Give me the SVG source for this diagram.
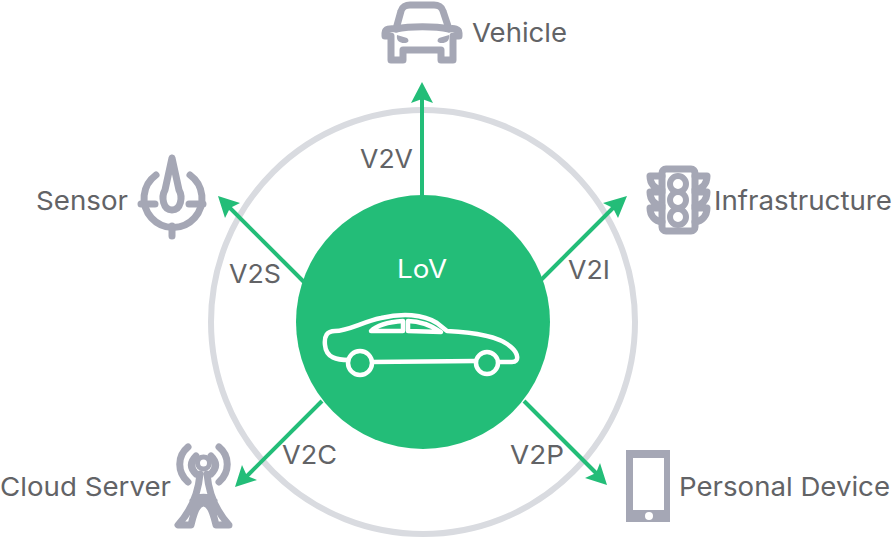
<svg xmlns="http://www.w3.org/2000/svg" width="894" height="538" viewBox="0 0 894 538">
<style>
.t{font-family:Inter,"Liberation Sans",sans-serif;font-size:26px;fill:#626366}
.w{font-family:Inter,"Liberation Sans",sans-serif;font-size:25px;fill:#fff;text-anchor:middle}
.i{fill:none;stroke:#a5a7b5;stroke-width:7;stroke-linecap:round;stroke-linejoin:round}
.f{fill:#a5a7b5}
.c{fill:none;stroke:#23bd78;stroke-width:4}
.a{fill:#23bd78}
.car{fill:none;stroke:#fff;stroke-width:4.5;stroke-linejoin:round}
</style>
<rect width="894" height="538" fill="#fff"/>
<circle id="ring" cx="423" cy="322" r="212" fill="none" stroke="#d9dbe0" stroke-width="6"/>
<g id="connectors">
<path class="c" d="M422 198V96"/><polygon class="a" points="422,82 433,103 422,99 411,103"/>
<path class="c" d="M541 280L614 207"/><polygon class="a" points="627,196 618,218 613,208 603,203"/>
<path class="c" d="M305 283L229 207"/><polygon class="a" points="218,196 240,203 230,208 225,218"/>
<path class="c" d="M322 401L246 477"/><polygon class="a" points="235,487 242,465 247,476 257,480"/>
<path class="c" d="M524 401L597 474"/><polygon class="a" points="607,485 585,478 596,473 600,463"/>
</g>
<g id="lov">
<circle cx="423" cy="322" r="127" fill="#23bd78"/>
<text class="w" x="422" y="278" textLength="50" lengthAdjust="spacingAndGlyphs">LoV</text>
<path class="car" d="M349 360C337 360 326 358 325 345C324 336 327 331 335 331C348 331 362 322 381 318C402 313 423 314 437 323L447 331C470 332 498 335 511 347C518 353 520 362 512 362L498 362M476 361L371 362"/>
<circle class="car" cx="360" cy="363" r="12"/><circle class="car" cx="487" cy="363" r="11"/>
<path class="car" stroke-width="3" d="M371 331C377 325 389 322 403 321V331ZM408 321C420 321 432 326 441 332L408 331Z"/>
</g>
<g id="vehicle">
<path class="i" d="M396 29L401 11C402 7 406 5 410 5H434C438 5 442 7 443 11L449 29" stroke-width="9"/>
<path class="i" d="M396 29C390 28 385 29 385 33V36H391V60H403V50H441V60H453V36H459V33C459 29 454 28 449 29C435 26 410 26 396 29Z"/>
<path class="f" d="M397 35L407 38C410 41 408 43 404 43C400 43 396 41 397 35ZM449 35L439 38C436 41 438 43 442 43C446 43 450 41 449 35Z"/>
<text class="t" x="472" y="42" textLength="95" lengthAdjust="spacingAndGlyphs">Vehicle</text>
</g>
<g id="infrastructure">
<rect class="i" x="662" y="169" width="33" height="62" rx="4"/>
<path class="i" d="M662 176H650C650 184 655 189 662 190M695 176H707C707 184 702 189 695 190M662 192H650C650 200 655 205 662 206M695 192H707C707 200 702 205 695 206M662 208H650C650 216 655 221 662 222M695 208H707C707 216 702 221 695 222"/>
<circle cx="678" cy="184" r="8" fill="#fff" stroke="#a5a7b5" stroke-width="6"/>
<circle cx="678" cy="200" r="8" fill="#fff" stroke="#a5a7b5" stroke-width="6"/>
<circle cx="678" cy="217" r="8" fill="#fff" stroke="#a5a7b5" stroke-width="6"/>
<text class="t" x="714" y="210" textLength="178" lengthAdjust="spacingAndGlyphs">Infrastructure</text>
</g>
<g id="sensor">
<path class="i" d="M156 175A29 29 0 1 0 190 175" stroke-linecap="butt"/>
<path class="i" d="M172 158L165 190C161 197 163 210 172 210C181 210 183 197 179 190Z"/>
<path class="i" d="M141 204H155M189 204H203M172 226V236" stroke-linecap="butt"/>
<text class="t" x="36" y="210" textLength="92" lengthAdjust="spacingAndGlyphs">Sensor</text>
</g>
<g id="cloud">
<path class="i" d="M188 447C177 456 177 472 188 482M219 447C230 456 230 472 219 482M196 456C190 462 190 468 196 474M211 456C217 462 217 468 211 474" stroke-width="5"/>
<circle cx="203.500" cy="463" r="6" fill="#fff" stroke="#a5a7b5" stroke-width="5"/>
<path class="i" d="M200 474C198 495 190 512 178 525H191C194 512 197 503 203.500 503C210 503 213 512 216 525H229C217 512 209 495 207 474M193 501C199 496 208 496 214 501" stroke-width="4.500"/>
<text class="t" x="0" y="496" textLength="171" lengthAdjust="spacingAndGlyphs">Cloud Server</text>
</g>
<g id="device">
<rect x="626" y="450" width="44" height="72" fill="#a5a7b5"/>
<rect x="633" y="458" width="31" height="52" fill="#fff"/>
<circle cx="649" cy="516" r="4" fill="#fff"/>
<text class="t" x="679" y="496" textLength="211" lengthAdjust="spacingAndGlyphs">Personal Device</text>
</g>
<g id="labels">
<text class="t" x="360" y="168" textLength="53" lengthAdjust="spacingAndGlyphs">V2V</text>
<text class="t" x="568" y="279" textLength="42" lengthAdjust="spacingAndGlyphs">V2I</text>
<text class="t" x="229" y="283" textLength="52" lengthAdjust="spacingAndGlyphs">V2S</text>
<text class="t" x="282" y="464" textLength="55" lengthAdjust="spacingAndGlyphs">V2C</text>
<text class="t" x="510" y="464" textLength="54" lengthAdjust="spacingAndGlyphs">V2P</text>
</g>
</svg>
